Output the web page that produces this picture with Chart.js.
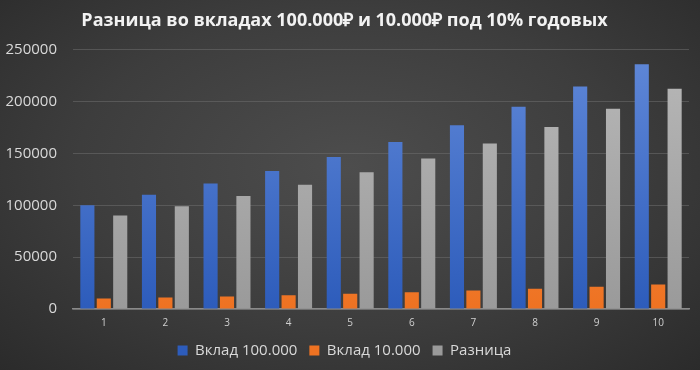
<!DOCTYPE html>
<html>
<head>
<meta charset="utf-8">
<script src="https://cdn.jsdelivr.net/npm/chart.js@4"></script>
<style>
  html, body { margin: 0; padding: 0; }
  body {
    width: 700px; height: 370px; overflow: hidden;
    background: radial-gradient(ellipse at 50% 45%, #4d4d4d 0%, #3d3d3d 55%, #2b2b2b 100%);
  }
  #wrap { position: relative; width: 700px; height: 370px; }
</style>
</head>
<body>
<div id="wrap"><canvas id="chart"></canvas></div>
<script>
  const years = ['1', '2', '3', '4', '5', '6', '7', '8', '9', '10'];
  const big = [100000, 110000, 121000, 133100, 146410, 161051, 177156, 194872, 214359, 235795];
  const small = [10000, 11000, 12100, 13310, 14641, 16105, 17716, 19487, 21436, 23579];
  const diff = [90000, 99000, 108900, 119790, 131769, 144946, 159440, 175385, 192923, 212216];

  function vGrad(top, bottom) {
    return (ctx) => {
      const area = ctx.chart.chartArea;
      if (!area) return bottom;
      const g = ctx.chart.ctx.createLinearGradient(0, area.top, 0, area.bottom);
      g.addColorStop(0, top);
      g.addColorStop(1, bottom);
      return g;
    };
  }

  new Chart(document.getElementById('chart'), {
    type: 'bar',
    data: {
      labels: years,
      datasets: [
        { label: 'Вклад 100.000', data: big, backgroundColor: vGrad('#6088d8', '#2d5cbb') },
        { label: 'Вклад 10.000', data: small, backgroundColor: vGrad('#f79a55', '#ee7222') },
        { label: 'Разница', data: diff, backgroundColor: vGrad('#b8b8b8', '#9a9a9a') },
      ],
    },
    options: {
      responsive: true,
      maintainAspectRatio: false,
      animation: false,
      datasets: { bar: { categoryPercentage: 0.8, barPercentage: 0.86 } },
      layout: { padding: { left: 0, right: 11, top: 6, bottom: 2 } },
      plugins: {
        title: {
          display: true,
          text: 'Разница во вкладах 100.000₽ и 10.000₽ под 10% годовых',
          color: '#f2f2f2',
          font: { family: 'Open Sans', size: 18, weight: 'bold' },
          padding: { top: 4, bottom: 18 },
        },
        legend: {
          position: 'bottom',
          labels: {
            color: '#d9d9d9',
            font: { family: 'Open Sans', size: 15 },
            boxWidth: 10,
            boxHeight: 10,
            padding: 12,
          },
        },
        tooltip: { enabled: false },
      },
      scales: {
        x: {
          afterFit: (scale) => { scale.height = 22; },
          grid: { display: false, drawTicks: false },
          border: { color: '#8a8a8a', width: 1.5 },
          ticks: { color: '#cfcfcf', font: { family: 'Open Sans', size: 10 }, padding: 8 },
        },
        y: {
          min: 0,
          max: 250000,
          afterFit: (scale) => { scale.width = 73; },
          grid: { color: 'rgba(110,110,110,0.55)', drawTicks: false },
          border: { display: false },
          ticks: {
            stepSize: 50000,
            color: '#d9d9d9',
            font: { family: 'Open Sans', size: 15 },
            padding: 16,
            callback: (v) => String(v),
          },
        },
      },
    },
  });
</script>
</body>
</html>
